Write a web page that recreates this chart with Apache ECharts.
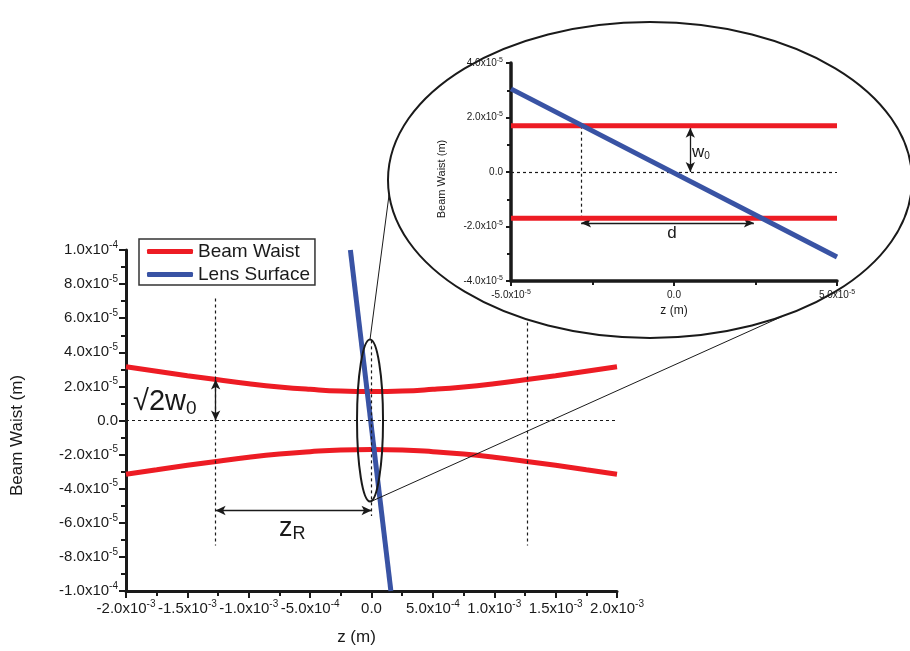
<!DOCTYPE html>
<html>
<head>
<meta charset="utf-8">
<script src="https://cdn.jsdelivr.net/npm/echarts@6/dist/echarts.min.js"></script>
<style>
  html, body { margin: 0; padding: 0; background: #fff; }
  #chart { width: 910px; height: 651px; }
</style>
</head>
<body>
<div id="chart"></div>
<script>
// ---- Gaussian beam near the focus (metres) ----
const beamZ     = [-2.0e-3, -1.75e-3, -1.5e-3, -1.25e-3, -1.0e-3, -0.75e-3, -0.5e-3, -0.25e-3, 0,
                    0.25e-3, 0.5e-3, 0.75e-3, 1.0e-3, 1.25e-3, 1.5e-3, 1.75e-3, 2.0e-3];
const beamUpper = [3.15e-5, 2.89e-5, 2.63e-5, 2.39e-5, 2.16e-5, 1.97e-5, 1.83e-5, 1.73e-5, 1.70e-5,
                   1.73e-5, 1.83e-5, 1.97e-5, 2.16e-5, 2.39e-5, 2.63e-5, 2.89e-5, 3.15e-5];
const beamLower = [-3.15e-5, -2.89e-5, -2.63e-5, -2.39e-5, -2.16e-5, -1.97e-5, -1.83e-5, -1.73e-5, -1.70e-5,
                   -1.73e-5, -1.83e-5, -1.97e-5, -2.16e-5, -2.39e-5, -2.63e-5, -2.89e-5, -3.15e-5];

// tilted lens surface crossing the focus
const lensZ = [-1.72e-4, 1.58e-4];
const lensY = [1.0e-4, -1.0e-4];

// characteristic lengths
const waist0 = 1.7e-5;          // w0
const rayleigh = 1.27e-3;       // zR
const waistAtZR = 2.4e-5;       // sqrt(2) w0

// ---- zoomed view around the focus ----
const zoomZ = [-5.0e-5, 5.0e-5];
const zoomUpper = [1.7e-5, 1.7e-5];
const zoomLower = [-1.7e-5, -1.7e-5];
const zoomLens = [3.05e-5, -3.12e-5];
const crossUpperZ = -2.85e-5;   // lens meets +w0
const crossLowerZ = 2.45e-5;    // end of the d arrow

// axis ranges / steps
const mainX = { min: -2.0e-3, max: 2.0e-3, step: 5.0e-4 };
const mainY = { min: -1.0e-4, max: 1.0e-4, step: 2.0e-5 };
const zoomX = { min: -5.0e-5, max: 5.0e-5, step: 5.0e-5 };
const zoomY = { min: -4.0e-5, max: 4.0e-5, step: 2.0e-5 };

const FONT = '"Liberation Sans", Arial, Helvetica, sans-serif';
const RED = '#ed1c24';
const BLUE = '#3953a4';
const INK = '#1a1a1a';

function sci(v) {
  if (Math.abs(v) < 1e-12) return '{m|0.0}';
  const parts = v.toExponential(1).split('e');
  return '{m|' + parts[0] + 'x10}{e|' + parseInt(parts[1], 10) + '}';
}
function richFor(size, supSize) {
  return {
    m: { fontSize: size, fontFamily: FONT, color: INK, lineHeight: Math.round(size * 1.3) },
    e: { fontSize: supSize, fontFamily: FONT, color: INK, lineHeight: supSize, verticalAlign: 'top' }
  };
}
const zip = (a, b) => a.map((v, i) => [v, b[i]]);

function axisCommon(rich, tickLen, minorLen, lw) {
  return {
    type: 'value',
    axisLine: { onZero: false, lineStyle: { color: INK, width: lw } },
    axisTick: { length: tickLen, lineStyle: { color: INK, width: 2 } },
    minorTick: { show: true, splitNumber: 2, length: minorLen, lineStyle: { color: INK, width: 2 } },
    splitLine: { show: false },
    minorSplitLine: { show: false },
    axisLabel: { formatter: sci, rich: rich }
  };
}

const dashed = { color: INK, width: 1.2, type: [3, 3] };
const arrowStyle = { color: INK, width: 1.3, type: 'solid' };

const chart = echarts.init(document.getElementById('chart'));

const option = {
  animation: false,
  backgroundColor: '#fff',
  grid: [
    { left: 126, top: 250, width: 491, height: 341 },
    { left: 511, top: 63, width: 326, height: 218 }
  ],
  legend: {
    data: ['Beam Waist', 'Lens Surface'],
    orient: 'vertical',
    left: 139, top: 239,
    padding: [3, 5, 1, 8],
    itemGap: 4,
    itemWidth: 46, itemHeight: 5,
    icon: 'roundRect',
    borderColor: '#333', borderWidth: 1.5,
    textStyle: { fontSize: 19, fontFamily: FONT, color: INK }
  },
  xAxis: [
    Object.assign(axisCommon(richFor(15, 10), 7, 5, 3), {
      gridIndex: 0, min: mainX.min, max: mainX.max, interval: mainX.step,
      name: 'z (m)', nameLocation: 'middle', nameGap: 38,
      nameTextStyle: { fontSize: 17, fontFamily: FONT, color: INK, padding: [0, 30, 0, 0] }
    }),
    Object.assign(axisCommon(richFor(10, 7), 5, 4, 3.5), {
      gridIndex: 1, min: zoomX.min, max: zoomX.max, interval: zoomX.step, z: 60,
      name: 'z (m)', nameLocation: 'middle', nameGap: 24,
      nameTextStyle: { fontSize: 12, fontFamily: FONT, color: INK }
    })
  ],
  yAxis: [
    Object.assign(axisCommon(richFor(15, 10), 7, 5, 3), {
      gridIndex: 0, min: mainY.min, max: mainY.max, interval: mainY.step,
      name: 'Beam Waist (m)', nameLocation: 'middle', nameGap: 100,
      nameTextStyle: { fontSize: 17, fontFamily: FONT, color: INK, padding: [0, 30, 0, 0] }
    }),
    Object.assign(axisCommon(richFor(10, 7), 5, 4, 3.5), {
      gridIndex: 1, min: zoomY.min, max: zoomY.max, interval: zoomY.step, z: 60,
      name: 'Beam Waist (m)', nameLocation: 'middle', nameGap: 64,
      nameTextStyle: { fontSize: 11, fontFamily: FONT, color: INK, padding: [0, 14, 0, 0] }
    })
  ],
  series: [
    // guide lines of the main view
    {
      type: 'line', xAxisIndex: 0, yAxisIndex: 0, data: [], z: 2, silent: true,
      markLine: {
        silent: true, symbol: 'none', label: { show: false }, lineStyle: dashed,
        data: [
          [{ coord: [mainX.min, 0] }, { coord: [mainX.max, 0] }],
          [{ coord: [-rayleigh, 7.16e-5] }, { coord: [-rayleigh, -7.33e-5] }],
          [{ coord: [rayleigh, 7.16e-5] }, { coord: [rayleigh, -7.33e-5] }],
          [{ coord: [0, 4.7e-5] }, { coord: [0, -5.6e-5] }]
        ]
      }
    },
    {
      type: 'line', xAxisIndex: 0, yAxisIndex: 0, data: [], z: 2, silent: true,
      markLine: {
        silent: true, symbol: ['arrow', 'arrow'], symbolSize: [7, 10], label: { show: false },
        lineStyle: arrowStyle,
        data: [
          [{ coord: [-rayleigh, waistAtZR] }, { coord: [-rayleigh, 0] }],
          [{ coord: [-rayleigh, -5.28e-5] }, { coord: [0, -5.28e-5] }]
        ]
      }
    },
    {
      name: 'Beam Waist', type: 'line', xAxisIndex: 0, yAxisIndex: 0, smooth: true, showSymbol: false,
      data: zip(beamZ, beamUpper), color: RED, lineStyle: { width: 5, color: RED }, z: 3
    },
    {
      name: 'Beam Waist', type: 'line', xAxisIndex: 0, yAxisIndex: 0, smooth: true, showSymbol: false,
      data: zip(beamZ, beamLower), color: RED, lineStyle: { width: 5, color: RED }, z: 3
    },
    {
      name: 'Lens Surface', type: 'line', xAxisIndex: 0, yAxisIndex: 0, showSymbol: false,
      data: zip(lensZ, lensY), color: BLUE, lineStyle: { width: 5, color: BLUE }, z: 4
    },
    // zoomed view
    {
      type: 'line', xAxisIndex: 1, yAxisIndex: 1, data: [], z: 60, silent: true,
      markLine: {
        silent: true, symbol: 'none', label: { show: false }, lineStyle: dashed, z: 60,
        data: [
          [{ coord: [zoomX.min, 0] }, { coord: [zoomX.max, 0] }],
          [{ coord: [crossUpperZ, waist0] }, { coord: [crossUpperZ, -waist0] }]
        ]
      }
    },
    {
      type: 'line', xAxisIndex: 1, yAxisIndex: 1, data: [], z: 60, silent: true,
      markLine: {
        silent: true, symbol: ['arrow', 'arrow'], symbolSize: [7, 10], label: { show: false },
        lineStyle: arrowStyle, z: 60,
        data: [
          [{ coord: [5e-6, 1.62e-5] }, { coord: [5e-6, 0] }],
          [{ coord: [crossUpperZ, -1.87e-5] }, { coord: [crossLowerZ, -1.87e-5] }]
        ]
      }
    },
    {
      name: 'Beam Waist', type: 'line', xAxisIndex: 1, yAxisIndex: 1, showSymbol: false,
      data: zip(zoomZ, zoomUpper), color: RED, lineStyle: { width: 5, color: RED }, z: 61
    },
    {
      name: 'Beam Waist', type: 'line', xAxisIndex: 1, yAxisIndex: 1, showSymbol: false,
      data: zip(zoomZ, zoomLower), color: RED, lineStyle: { width: 5, color: RED }, z: 61
    },
    {
      name: 'Lens Surface', type: 'line', xAxisIndex: 1, yAxisIndex: 1, showSymbol: false,
      data: zip(zoomZ, zoomLens), color: BLUE, lineStyle: { width: 5, color: BLUE }, z: 62
    }
  ]
};
chart.setOption(option);

// ---- callout: small ellipse at the focus, magnified view in a large ellipse ----
const lens = { cx: 650, cy: 180, rx: 262, ry: 158 };
const focusCenter = [-1.2e-5, 0];
const focusHalfZ = 1.06e-4;
const focusHalfY = 4.75e-5;

const toMain = p => chart.convertToPixel({ gridIndex: 0 }, p);
const toZoom = p => chart.convertToPixel({ gridIndex: 1 }, p);

const fc = toMain(focusCenter);
const fEdge = toMain([focusCenter[0] + focusHalfZ, focusHalfY]);
const frx = Math.abs(fEdge[0] - fc[0]);
const fry = Math.abs(fc[1] - fEdge[1]);

function hitEllipse(p0, p1, e) {
  const dx = p1[0] - p0[0], dy = p1[1] - p0[1];
  const ax = (p0[0] - e.cx) / e.rx, bx = dx / e.rx;
  const ay = (p0[1] - e.cy) / e.ry, by = dy / e.ry;
  const A = bx * bx + by * by, B = 2 * (ax * bx + ay * by), C = ax * ax + ay * ay - 1;
  const disc = B * B - 4 * A * C;
  if (disc < 0) return p1;
  const t = (-B - Math.sqrt(disc)) / (2 * A);
  return [p0[0] + t * dx, p0[1] + t * dy];
}
const topPt = [fc[0], fc[1] - fry];
const botPt = [fc[0] + 1, fc[1] + fry];
const end1 = hitEllipse(topPt, [391, 180], lens);
const end2 = hitEllipse(botPt, [772, 321], lens);

// annotation text anchors (data units)
const sqrtLabelAt = toMain([-1.943e-3, 1.06e-5]);
const zrLabelAt = toMain([-7.54e-4, -6.33e-5]);
const w0LabelAt = toZoom([5.5e-6, 7.3e-6]);
const dLabelAt = toZoom([-0.6e-6, -2.24e-5]);

chart.setOption({
  graphic: [
    { type: 'line', z: 40, silent: true, shape: { x1: topPt[0], y1: topPt[1], x2: end1[0], y2: end1[1] },
      style: { stroke: INK, lineWidth: 1 } },
    { type: 'line', z: 40, silent: true, shape: { x1: botPt[0], y1: botPt[1], x2: end2[0], y2: end2[1] },
      style: { stroke: INK, lineWidth: 1 } },
    { type: 'ellipse', z: 45, silent: true, shape: { cx: fc[0], cy: fc[1], rx: frx, ry: fry },
      style: { fill: 'none', stroke: INK, lineWidth: 2 } },
    { type: 'ellipse', z: 50, silent: true, shape: { cx: lens.cx, cy: lens.cy, rx: lens.rx, ry: lens.ry },
      style: { fill: '#fff', stroke: INK, lineWidth: 2 } },
    { type: 'text', z: 45, silent: true, x: sqrtLabelAt[0], y: sqrtLabelAt[1],
      style: { text: '{a|√2w}{b|0}', verticalAlign: 'middle', align: 'left',
        rich: { a: { fontSize: 29, fontFamily: FONT, fill: INK, lineHeight: 32 },
                b: { fontSize: 19, fontFamily: FONT, fill: INK, lineHeight: 12, verticalAlign: 'bottom' } } } },
    { type: 'text', z: 45, silent: true, x: zrLabelAt[0], y: zrLabelAt[1],
      style: { text: '{a|z}{b|R}', verticalAlign: 'middle', align: 'left',
        rich: { a: { fontSize: 27, fontFamily: FONT, fill: INK, lineHeight: 30 },
                b: { fontSize: 18, fontFamily: FONT, fill: INK, lineHeight: 12, verticalAlign: 'bottom' } } } },
    { type: 'text', z: 70, silent: true, x: w0LabelAt[0], y: w0LabelAt[1],
      style: { text: '{a|w}{b|0}', verticalAlign: 'middle', align: 'left',
        rich: { a: { fontSize: 17, fontFamily: FONT, fill: INK, lineHeight: 18 },
                b: { fontSize: 10, fontFamily: FONT, fill: INK, lineHeight: 8, verticalAlign: 'bottom' } } } },
    { type: 'text', z: 70, silent: true, x: dLabelAt[0], y: dLabelAt[1],
      style: { text: 'd', verticalAlign: 'middle', align: 'center', fontSize: 17, fontFamily: FONT, fill: INK } }
  ]
});
</script>
</body>
</html>
